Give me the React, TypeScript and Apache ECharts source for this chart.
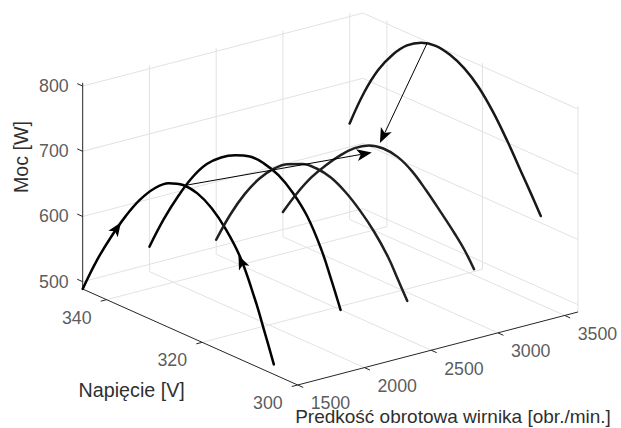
import React, { useEffect, useRef } from "react";
import * as echarts from "echarts";

// ---- data (3D: speed [rpm], voltage [V], power [W]) ----
const speeds = [1500, 2000, 2500, 3000, 3500];
const voltages = [345, 342, 339, 336, 333, 330, 327, 324, 321, 318, 315, 312, 309, 307, 305];
const power1500 = [489, 543, 589, 630, 665, 692, 710, 717, 714, 701, 678, 645, 592, 549, 504];
const power2000 = [527, 579, 624, 663, 693, 713, 726, 734, 733, 725, 708, 682, 640, 602, 561];
const power2500 = [511, 560, 601, 634, 659, 676, 686, 689, 685, 673, 655, 632, 602, 575, 548];
const power3000 = [527, 566, 600, 628, 653, 674, 688, 693, 690, 678, 658, 635, 611, 593, 570];
const power3500 = [636, 693, 738, 771, 795, 809, 814, 810, 799, 780, 752, 717, 678, 652, 625];

const speedTicks = [1500, 2000, 2500, 3000, 3500];
const voltageTicks = [300, 320, 340];
const powerTicks = [500, 600, 700, 800];
const speedRange = [1500, 3600];
const voltageRange = [300, 345];
const powerRange = [488.8, 805];

// tracking arrows (3D points)
const trackFrom = [1500, 323.2, 719.5];
const trackTo = [3000, 326.4, 679];
const dropFrom = [3500, 328.8, 812];
const dropTo = [3000, 324.7, 699];
const curveMarkAt = [
  [1500, 337.0, 617],
  [1500, 312.4, 647],
];
const curveMarkToward = [
  [1500, 335.0, 645],
  [1500, 314.0, 668],
];

const curveColors = ["#000000", "#050505", "#202020", "#202020", "#181818"];

// ---- orthographic view (MATLAB-like) ----
const view = { ox: 82.7, oy: 289, sx: 0.13348, sy: -0.03476, vx: 4.778, vy: 2.133, pz: 0.652 };
function project(s: number, v: number, p: number): [number, number] {
  const ds = s - speedRange[0];
  const dv = voltageRange[1] - v;
  const dp = p - powerRange[0];
  return [view.ox + ds * view.sx + dv * view.vx, view.oy + ds * view.sy + dv * view.vy - dp * view.pz];
}
const P = (a: number[]) => project(a[0], a[1], a[2]);

const FONT = "'Liberation Sans', Arial, Helvetica, sans-serif";
const GRID = "#e2e2e2";
const AXIS = "#262626";
const TEXT = "#2f2f2f";

function segment(a: number[], b: number[], color: string, width: number, z: number) {
  return {
    type: "line",
    data: [P(a), P(b)],
    symbol: "none",
    showSymbol: false,
    silent: true,
    z,
    lineStyle: { color, width },
  };
}

function rotationFor(from: [number, number], to: [number, number]) {
  const dx = to[0] - from[0];
  const dy = to[1] - from[1];
  return (Math.atan2(-dx, -dy) * 180) / Math.PI;
}

function buildOption() {
  const series: any[] = [];
  const [s0, s1] = speedRange;
  const [v0, v1] = voltageRange;
  const [p0, p1] = powerRange;

  // back wall (v = v1)
  powerTicks.forEach((p) => series.push(segment([s0, v1, p], [s1, v1, p], GRID, 1, 1)));
  speedTicks.filter((s) => s !== s0).forEach((s) => series.push(segment([s, v1, p0], [s, v1, p1], GRID, 1, 1)));
  // right wall (s = s1)
  powerTicks.forEach((p) => series.push(segment([s1, v1, p], [s1, v0, p], GRID, 1, 1)));
  voltageTicks.forEach((v) => series.push(segment([s1, v, p0], [s1, v, p1], GRID, 1, 1)));
  // floor (p = p0)
  speedTicks.filter((s) => s !== s0).forEach((s) => series.push(segment([s, v1, p0], [s, v0, p0], GRID, 1, 1)));
  voltageTicks.filter((v) => v !== v0).forEach((v) => series.push(segment([s0, v, p0], [s1, v, p0], GRID, 1, 1)));

  // axes
  series.push(segment([s0, v1, p0], [s0, v1, p1], AXIS, 1, 2));
  series.push(segment([s0, v1, p0], [s0, v0, p0], AXIS, 1, 2));
  series.push(segment([s0, v0, p0], [s1, v0, p0], AXIS, 1, 2));
  // ticks
  powerTicks.forEach((p) => series.push(segment([s0, v1, p], [s0, v1 + 1.15, p], AXIS, 1, 2)));
  voltageTicks.forEach((v) => series.push(segment([s0, v, p0], [s0 - 44, v, p0], AXIS, 1, 2)));
  speedTicks.forEach((s) => series.push(segment([s, v0, p0], [s, v0 - 1.15, p0], AXIS, 1, 2)));

  // curves
  const powers = [power1500, power2000, power2500, power3000, power3500];
  powers.forEach((pw, i) => {
    series.push({
      type: "line",
      data: voltages.map((v, k) => project(speeds[i], v, pw[k])),
      symbol: "none",
      showSymbol: false,
      smooth: 0.4,
      silent: true,
      z: 5,
      lineStyle: { color: curveColors[i], width: 2.5, cap: "round", join: "round" },
    });
  });

  // tracking arrows
  const arrowHeads: any[] = [];
  const addArrow = (from: number[], to: number[], size: number[]) => {
    const a = P(from);
    const b = P(to);
    const len = Math.hypot(b[0] - a[0], b[1] - a[1]);
    const ux = (b[0] - a[0]) / len;
    const uy = (b[1] - a[1]) / len;
    const back = size[1] * 0.75;
    series.push({
      type: "line",
      data: [a, [b[0] - ux * back, b[1] - uy * back]],
      symbol: "none",
      showSymbol: false,
      silent: true,
      z: 6,
      lineStyle: { color: "#000", width: 1 },
    });
    arrowHeads.push({ value: b, symbolRotate: rotationFor(a, b), symbolSize: size });
  };
  addArrow(trackFrom, trackTo, [9, 15]);
  addArrow(dropFrom, dropTo, [9, 15]);
  curveMarkAt.forEach((at, i) => {
    const a = P(at);
    const t = P(curveMarkToward[i]);
    arrowHeads.push({ value: a, symbolRotate: rotationFor(a, t), symbolSize: [8.5, 14] });
  });
  series.push({
    type: "scatter",
    data: arrowHeads,
    symbol: "arrow",
    silent: true,
    z: 7,
    itemStyle: { color: "#000", opacity: 1 },
  });

  // tick labels
  const labelItems: any[] = [];
  powerTicks.forEach((p) =>
    labelItems.push({
      value: project(s0, v1, p),
      label: { formatter: String(p), position: [-14, 0], align: "right", verticalAlign: "middle" },
    })
  );
  voltageTicks.forEach((v) =>
    labelItems.push({
      value: project(s0, v, p0),
      label: { formatter: String(v), position: [-15, 18], align: "right", verticalAlign: "middle" },
    })
  );
  speedTicks.forEach((s) =>
    labelItems.push({
      value: project(s, v0, p0),
      label: { formatter: String(s), position: [13, 18.5], align: "left", verticalAlign: "middle" },
    })
  );
  series.push({
    type: "scatter",
    data: labelItems,
    symbolSize: 0.01,
    silent: true,
    z: 8,
    itemStyle: { color: "rgba(0,0,0,0)" },
    label: { show: true, color: TEXT, fontSize: 17.8, fontFamily: FONT, lineHeight: 18 },
  });

  return {
    animation: false,
    backgroundColor: "#ffffff",
    grid: { left: 0, right: 0, top: 0, bottom: 0, containLabel: false },
    xAxis: { type: "value", min: 0, max: 621, show: false },
    yAxis: { type: "value", min: 0, max: 428, inverse: true, show: false },
    series,
    graphic: [
      {
        type: "text",
        x: 21,
        y: 157,
        rotation: Math.PI / 2,
        style: { text: "Moc [W]", fill: TEXT, fontSize: 19.7, fontFamily: FONT, align: "center", verticalAlign: "middle" },
      },
      {
        type: "text",
        x: 131.7,
        y: 389.5,
        style: { text: "Napięcie [V]", fill: TEXT, fontSize: 19.7, fontFamily: FONT, align: "center", verticalAlign: "middle" },
      },
      {
        type: "text",
        x: 453,
        y: 416.5,
        style: {
          text: "Predkość obrotowa wirnika [obr./min.]",
          fill: TEXT,
          fontSize: 19,
          fontFamily: FONT,
          align: "center",
          verticalAlign: "middle",
          lineHeight: 16,
        },
      },
    ],
  };
}

export default function App() {
  const ref = useRef<HTMLDivElement>(null);
  useEffect(() => {
    if (!ref.current) return;
    const chart = echarts.init(ref.current, undefined, { renderer: "svg" });
    chart.setOption(buildOption() as any);
    return () => chart.dispose();
  }, []);
  return <div ref={ref} style={{ position: "fixed", left: 0, top: 0, width: 621, height: 428, background: "#fff" }} />;
}
